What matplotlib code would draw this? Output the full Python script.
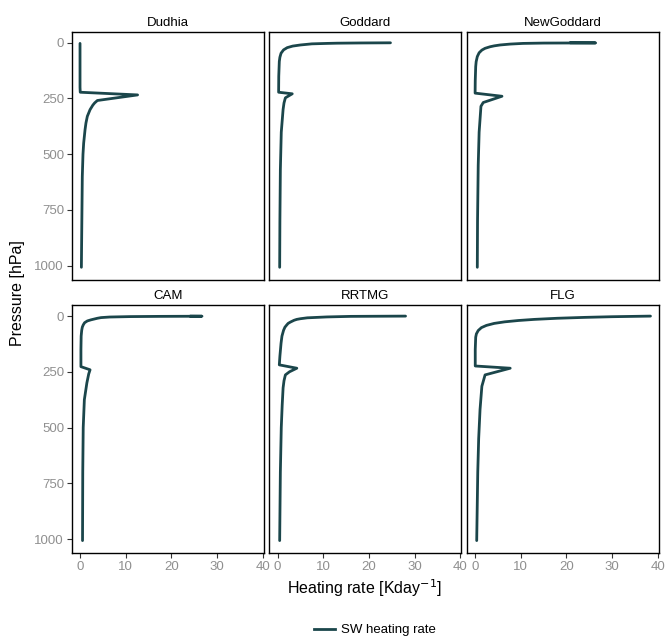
import matplotlib
matplotlib.use("Agg")
import matplotlib.pyplot as plt
from matplotlib.lines import Line2D

plt.rcParams.update({
    "font.family": ["Liberation Sans", "DejaVu Sans"],
    "font.size": 9,
})

# model names (facet order)
models = ["Dudhia", "Goddard", "NewGoddard", "CAM", "RRTMG", "FLG"]

# pressure levels [hPa] and SW heating rate [K/day]
p_dudhia = [3, 50, 100, 150, 200, 222, 234, 259, 270, 280, 300, 330, 360, 390, 450, 500, 600, 700, 800, 900, 1007]
q_dudhia = [0, 0, 0, 0, 0, 0.05, 12.6, 3.8, 3.2, 2.8, 2.2, 1.6, 1.3, 1.1, 0.8, 0.65, 0.5, 0.45, 0.4, 0.35, 0.3]

p_goddard = [0.3, 1, 2, 3, 5, 10, 15, 22, 32, 47, 65, 84, 150, 222, 229, 247, 270, 299, 401, 570, 800, 1007]
q_goddard = [24.7, 18.2, 13, 10.8, 7.5, 5.0, 3.3, 2.1, 1.3, 0.75, 0.5, 0.37, 0.25, 0.22, 3.2, 1.7, 1.4, 1.2, 0.8, 0.6, 0.5, 0.45]

p_newgoddard = [0.2, 0.8, 1.5, 3, 6, 10, 14, 18, 25, 33, 45, 62, 85, 107, 170, 226, 240, 268, 285, 401, 550, 800, 1007]
q_newgoddard = [20.8, 26.4, 15, 10.5, 7.7, 5.5, 4.2, 3.3, 2.2, 1.5, 0.9, 0.5, 0.25, 0.15, 0.05, 0.02, 5.9, 1.8, 1.3, 0.9, 0.7, 0.55, 0.5]

p_cam = [0.3, 0.8, 1.5, 2.5, 4.4, 7, 10, 13, 17, 22, 30, 40, 50, 64, 90, 150, 200, 227, 241, 260, 300, 375, 500, 700, 1007]
q_cam = [24.1, 26.7, 17.5, 11, 6.5, 4.6, 3.8, 3.2, 2.4, 1.6, 1.0, 0.7, 0.5, 0.37, 0.25, 0.2, 0.2, 0.2, 2.2, 1.9, 1.5, 0.95, 0.7, 0.6, 0.55]

p_rrtmg = [0.3, 1.5, 4, 8, 12, 15, 19, 22, 27, 33, 40, 50, 64, 90, 122, 180, 219, 234, 250, 264, 290, 322, 400, 500, 700, 1007]
q_rrtmg = [28.0, 16, 10.8, 6.5, 5.0, 4.2, 3.6, 3.3, 2.8, 2.3, 2.0, 1.6, 1.3, 0.95, 0.75, 0.5, 0.37, 4.2, 2.6, 1.7, 1.4, 1.2, 1.0, 0.8, 0.6, 0.45]

p_flg = [0.3, 3, 6, 10, 15, 20, 26, 33, 42, 52, 65, 80, 95, 150, 224, 234, 264, 315, 419, 550, 700, 1007]
q_flg = [38.4, 30, 24, 18, 13, 9.5, 6.5, 4.2, 2.5, 1.4, 0.7, 0.3, 0.15, 0.05, 0.05, 7.7, 2.2, 1.5, 1.1, 0.8, 0.6, 0.37]

profiles = {
    "Dudhia": (p_dudhia, q_dudhia),
    "Goddard": (p_goddard, q_goddard),
    "NewGoddard": (p_newgoddard, q_newgoddard),
    "CAM": (p_cam, q_cam),
    "RRTMG": (p_rrtmg, q_rrtmg),
    "FLG": (p_flg, q_flg),
}

xticks = [0, 10, 20, 30, 40]
yticks = [0, 250, 500, 750, 1000]

line_col = "#1b464b"
tick_col = "#8f8f8f"

W, H = 665, 641
fig = plt.figure(figsize=(W / 100, H / 100), dpi=100)

lefts = [71.7, 269.3, 466.7]
tops = [31.7, 305.0]
pw, ph = 192.0, 248.3

for i, name in enumerate(models):
    r, c = divmod(i, 3)
    ax = fig.add_axes([lefts[c] / W, 1 - (tops[r] + ph) / H, pw / W, ph / H])
    p, q = profiles[name]
    ax.plot(q, p, color=line_col, lw=2.0, solid_capstyle="round", solid_joinstyle="round")
    ax.set_xlim(-1.82, 40.2)
    ax.set_ylim(1064, -49.5)
    ax.set_xticks(xticks)
    ax.set_yticks(yticks)
    ax.set_title(name, fontsize=9.5, pad=4)
    ax.tick_params(direction="out", length=3.5, width=0.8, color="#333333",
                   labelcolor=tick_col, labelsize=9.5, pad=2)
    for s in ax.spines.values():
        s.set_linewidth(1.0)
        s.set_color("black")
    if r == 0:
        ax.tick_params(axis="x", bottom=False, labelbottom=False)
    if c != 0:
        ax.tick_params(axis="y", left=False, labelleft=False)

fig.text(18 / W, 1 - 293 / H, "Pressure [hPa]", rotation=90, ha="center", va="center", fontsize=11.5)
fig.text(365 / W, 1 - 588 / H, "Heating rate [Kday$^{-1}$]", ha="center", va="center", fontsize=11.5)

handle = Line2D([], [], color=line_col, lw=2.0)
fig.legend([handle], ["SW heating rate"], loc="center", bbox_to_anchor=(375 / W, 1 - 630 / H),
           frameon=False, fontsize=9.5, handlelength=1.6, handletextpad=0.5)

fig.savefig("out.png", dpi=100)
